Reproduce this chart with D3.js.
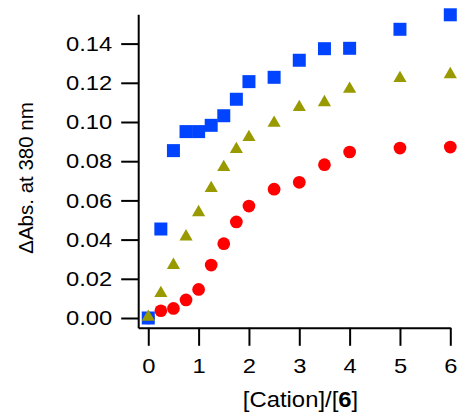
<!DOCTYPE html>
<html>
<head>
<meta charset="utf-8">
<script src="https://cdn.jsdelivr.net/npm/d3@7"></script>
<style>
  html, body { margin: 0; padding: 0; background: #fff; }
  svg { display: block; font-family: "Liberation Sans", Arial, sans-serif; }
</style>
</head>
<body>
<svg id="chart" width="459" height="415"></svg>
<script>
// Titration data: equivalents of cation vs. absorbance change at 380 nm
const ratioBlue  = [0, 0.25, 0.5, 0.75, 1.0, 1.25, 1.5, 1.75, 2.0, 2.5, 3.0, 3.5, 4.0, 5.0, 6.0];
const valuesBlue = [0, 0.0454, 0.0854, 0.0951, 0.0951, 0.0983, 0.1032, 0.1116, 0.1206, 0.1228, 0.1315, 0.1374, 0.1376, 0.1473, 0.1547];

const ratioOlive  = [0, 0.25, 0.5, 0.75, 1.0, 1.25, 1.5, 1.75, 2.0, 2.5, 3.0, 3.5, 4.0, 5.0, 6.0];
const valuesOlive = [0.0005, 0.0126, 0.0270, 0.0415, 0.0539, 0.0662, 0.0769, 0.0861, 0.0922, 0.0995, 0.1075, 0.1100, 0.1168, 0.1223, 0.1243];

const ratioRed  = [0, 0.25, 0.5, 0.75, 1.0, 1.25, 1.5, 1.75, 2.0, 2.5, 3.0, 3.5, 4.0, 5.0, 6.0];
const valuesRed = [0, 0.0037, 0.0049, 0.0092, 0.0146, 0.0270, 0.0379, 0.0490, 0.0571, 0.0657, 0.0692, 0.0782, 0.0847, 0.0867, 0.0872];

const xTicks = [0, 1, 2, 3, 4, 5, 6];
const yTicks = [0, 0.02, 0.04, 0.06, 0.08, 0.10, 0.12, 0.14];

const svg = d3.select("#chart");

const x = d3.scaleLinear().domain([-0.2, 6]).range([138.2, 450.3]);
const y = d3.scaleLinear().domain([-0.005, 0.155]).range([327.8, 14.2]);

const Y_TICK = 17, Y_PAD = 9, X_TICK = 18, X_PAD = 12;
const labelStretch = 1.13;

// Axes
const yAxis = d3.axisLeft(y)
  .tickValues(yTicks)
  .tickFormat(d3.format(".2f"))
  .tickSize(Y_TICK)
  .tickSizeOuter(0)
  .tickPadding(Y_PAD);

const xAxis = d3.axisBottom(x)
  .tickValues(xTicks)
  .tickFormat(d3.format("d"))
  .tickSize(X_TICK)
  .tickSizeOuter(0)
  .tickPadding(X_PAD);

const gy = svg.append("g")
  .attr("transform", `translate(${x(-0.2)},0)`)
  .call(yAxis);

const gx = svg.append("g")
  .attr("transform", `translate(0,${y(-0.005)})`)
  .call(xAxis);

[gx, gy].forEach(g => {
  g.selectAll("path.domain").attr("stroke", "#000").attr("stroke-width", 2);
  g.selectAll(".tick line").attr("stroke", "#000").attr("stroke-width", 2);
  g.selectAll(".tick text")
    .attr("fill", "#000")
    .style("font-size", "21px")
    .style("font-family", "'Liberation Sans', Arial, sans-serif");
});

// Slightly wide lettering on the tick labels
gy.selectAll(".tick text")
  .attr("x", 0)
  .attr("transform", `translate(${-(Y_TICK + Y_PAD)},0) scale(${labelStretch},1)`);
gx.selectAll(".tick text")
  .attr("transform", `scale(${labelStretch},1)`);

// Axis titles
svg.append("text")
  .attr("transform", `translate(33,${(y(0.155) + y(-0.005)) / 2 + 7}) rotate(-90)`)
  .attr("text-anchor", "middle")
  .style("font-size", "20.5px")
  .text("ΔAbs. at 380 nm");

const xt = svg.append("text")
  .attr("transform", "translate(300.5,407) scale(1.06,1)")
  .attr("text-anchor", "middle")
  .style("font-size", "22.5px");
xt.append("tspan").text("[Cation]/[");
xt.append("tspan").attr("font-weight", "bold").text("6");
xt.append("tspan").text("]");

// Markers
function series(xs, ys, type, size, color) {
  const sym = d3.symbol().type(type).size(size);
  svg.append("g")
    .selectAll("path")
    .data(xs.map((v, i) => [v, ys[i]]))
    .join("path")
    .attr("d", sym)
    .attr("transform", d => `translate(${x(d[0])},${y(d[1])})`)
    .attr("fill", color);
}

series(ratioRed, valuesRed, d3.symbolCircle, 127, "#ff0000");
series(ratioBlue, valuesBlue, d3.symbolSquare, 169, "#0044ff");
series(ratioOlive, valuesOlive, d3.symbolTriangle, 75, "#999900");
</script>
</body>
</html>
